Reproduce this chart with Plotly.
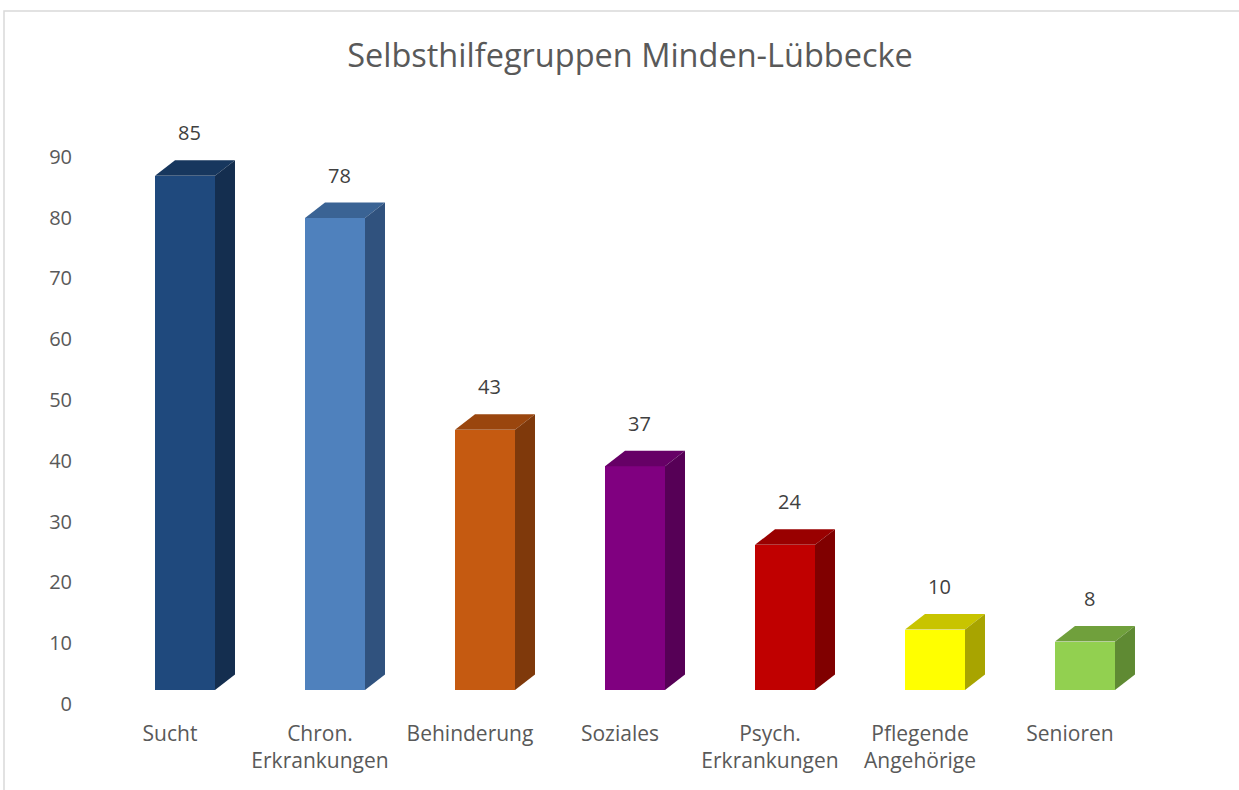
import plotly.graph_objects as go

categories = ["Sucht", "Chron.<br>Erkrankungen", "Behinderung", "Soziales",
              "Psych.<br>Erkrankungen", "Pflegende<br>Angehörige", "Senioren"]
values = [85, 78, 43, 37, 24, 10, 8]
front_colors = ["#1F497D", "#4F81BD", "#C55A11", "#800080", "#C00000", "#FFFF00", "#92D050"]
top_colors = ["#17375E", "#3A6394", "#9A460E", "#660066", "#990000", "#C8C400", "#70A03C"]
side_colors = ["#142E4F", "#30527E", "#7F390B", "#560056", "#800000", "#A8A400", "#5F8A33"]
y_ticks = [0, 10, 20, 30, 40, 50, 60, 70, 80, 90]

W, H = 1239, 790
L, R, T, B = 110, 1160, 85, 714
half_w = 0.2      # half front width (category units)
dx = 0.1333       # depth offset in x (category units)
dy = 2.56         # depth offset in y (value units)
tick_shift = 2.3  # back-wall offset of value labels
tick_scale = 6.08 / 6.05
label_shift = -0.1

fig = go.Figure()
xs = list(range(len(values)))

# front faces
fig.add_trace(go.Bar(x=xs, y=values, width=2 * half_w, marker=dict(color=front_colors, line=dict(width=0)),
                     hoverinfo="skip", showlegend=False))

for i, v in enumerate(values):
    c = xs[i]
    # top face
    fig.add_trace(go.Scatter(
        x=[c - half_w, c + half_w, c + half_w + dx, c - half_w + dx, c - half_w],
        y=[v, v, v + dy, v + dy, v],
        fill="toself", fillcolor=top_colors[i], mode="lines", line=dict(width=0, color=top_colors[i]),
        hoverinfo="skip", showlegend=False))
    # side face
    fig.add_trace(go.Scatter(
        x=[c + half_w, c + half_w + dx, c + half_w + dx, c + half_w, c + half_w],
        y=[0, dy, v + dy, v, 0],
        fill="toself", fillcolor=side_colors[i], mode="lines", line=dict(width=0, color=side_colors[i]),
        hoverinfo="skip", showlegend=False))

# data labels
for i, v in enumerate(values):
    fig.add_annotation(x=xs[i] + 0.03, y=v + dy, text=str(v), showarrow=False,
                       yanchor="bottom", yshift=12, font=dict(size=20, color="#404040"))

# chart frame
fig.add_shape(type="rect", xref="paper", yref="paper",
              x0=(4 - L) / (R - L), x1=(1250 - L) / (R - L),
              y0=(B - 800) / (B - T), y1=(B - 11) / (B - T),
              line=dict(color="#D9D9D9", width=1.5), fillcolor="rgba(0,0,0,0)", layer="below")

fig.update_layout(
    width=W, height=H,
    margin=dict(l=L, r=W - R, t=T, b=H - B),
    paper_bgcolor="white", plot_bgcolor="white",
    font=dict(family="Open Sans, sans-serif", color="#595959"),
    title=dict(text="Selbsthilfegruppen Minden-Lübbecke", x=630 / W, xanchor="center",
               y=1 - 56 / H, yanchor="middle", font=dict(size=32.5, color="#595959")),
    xaxis=dict(range=[-0.5, 6.5], tickvals=[x + label_shift for x in xs], ticktext=categories,
               showgrid=False, zeroline=False, showline=False, ticks="",
               ticklabelstandoff=5,
               tickfont=dict(size=21, color="#595959")),
    yaxis=dict(range=[(B - 690) / -6.05, (690 - T) / 6.05],
               tickvals=[t * tick_scale - tick_shift for t in y_ticks], ticktext=[str(t) for t in y_ticks],
               showgrid=False, zeroline=False, showline=False, ticks="",
               ticklabelstandoff=37,
               tickfont=dict(size=20, color="#595959")),
    bargap=0,
)

fig.write_html("out.html")
